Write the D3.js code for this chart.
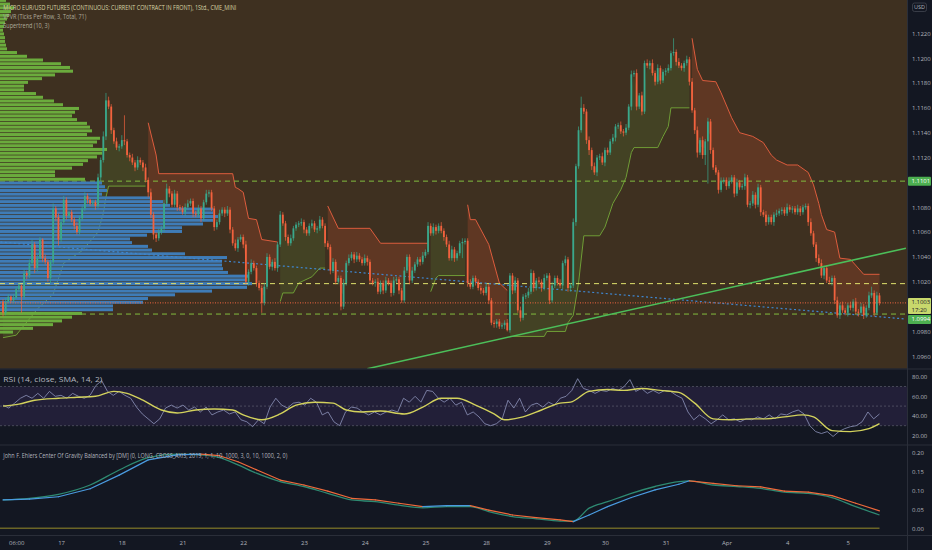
<!DOCTYPE html>
<html>
<head>
<meta charset="utf-8">
<script src="https://cdn.jsdelivr.net/npm/d3@7"></script>
<style>
  html, body { margin: 0; padding: 0; background: #131722; }
  svg { display: block; font-family: "Open Sans", "Noto Sans", sans-serif; }
</style>
</head>
<body>
<script>
// ---- 1h bars, open = previous close ----
var closes = [
  1.0995,1.1004,1.1008,1.1005,1.1007,1.1014,1.1017,1.1008,1.1027,1.1025,
  1.1035,1.1050,1.1031,1.1039,1.1054,1.1039,1.1036,1.1023,1.1036,1.1079,
  1.1072,1.1054,1.1068,1.1086,1.1073,1.1076,1.1070,1.1065,1.1060,1.1071,
  1.1079,1.1089,1.1086,1.1083,1.1084,1.1081,1.1104,1.1118,1.1137,1.1166,
  1.1161,1.1142,1.1133,1.1128,1.1129,1.1134,1.1133,1.1122,1.1120,1.1116,
  1.1112,1.1118,1.1116,1.1112,1.1102,1.1092,1.1074,1.1058,1.1055,1.1060,
  1.1063,1.1083,1.1095,1.1091,1.1082,1.1091,1.1080,1.1079,1.1076,1.1080,
  1.1083,1.1085,1.1075,1.1074,1.1079,1.1071,1.1084,1.1091,1.1092,1.1079,
  1.1064,1.1068,1.1075,1.1078,1.1075,1.1078,1.1062,1.1051,1.1047,1.1054,
  1.1056,1.1050,1.1020,1.1028,1.1035,1.1031,1.1019,1.1015,1.1003,1.1016,
  1.1040,1.1032,1.1036,1.1031,1.1050,1.1074,1.1067,1.1056,1.1051,1.1055,
  1.1063,1.1066,1.1067,1.1068,1.1062,1.1059,1.1065,1.1067,1.1062,1.1063,
  1.1070,1.1065,1.1051,1.1048,1.1029,1.1036,1.1020,1.1023,1.1000,1.1019,
  1.1035,1.1039,1.1042,1.1038,1.1041,1.1038,1.1035,1.1039,1.1036,1.1021,
  1.1019,1.1020,1.1012,1.1019,1.1013,1.1021,1.1019,1.1011,1.1021,1.1022,
  1.1013,1.1005,1.1029,1.1040,1.1021,1.1029,1.1034,1.1038,1.1036,1.1041,
  1.1044,1.1065,1.1059,1.1064,1.1061,1.1065,1.1061,1.1056,1.1050,1.1039,
  1.1046,1.1039,1.1043,1.1051,1.1052,1.1053,1.1019,1.1016,1.1023,1.1020,
  1.1015,1.1013,1.1011,1.1016,1.1005,1.0987,1.0986,1.0988,1.0984,1.0985,
  1.0987,1.0981,1.1025,1.1013,1.1021,1.0997,1.0991,1.1008,1.1009,1.1012,
  1.1027,1.1015,1.1021,1.1020,1.1015,1.1023,1.1025,1.1005,1.1017,1.1023,
  1.1019,1.1017,1.1035,1.1038,1.1015,1.1017,1.1068,1.1113,1.1142,1.1160,
  1.1157,1.1134,1.1126,1.1113,1.1108,1.1120,1.1121,1.1116,1.1126,1.1124,
  1.1133,1.1136,1.1145,1.1146,1.1141,1.1140,1.1144,1.1161,1.1187,1.1188,
  1.1161,1.1170,1.1157,1.1196,1.1194,1.1196,1.1188,1.1181,1.1192,1.1182,
  1.1189,1.1190,1.1192,1.1204,1.1205,1.1197,1.1194,1.1192,1.1196,1.1199,
  1.1181,1.1158,1.1142,1.1124,1.1134,1.1122,1.1133,1.1149,1.1126,1.1112,
  1.1108,1.1094,1.1101,1.1102,1.1097,1.1101,1.1104,1.1091,1.1100,1.1096,
  1.1097,1.1104,1.1082,1.1083,1.1090,1.1082,1.1096,1.1076,1.1074,1.1068,
  1.1072,1.1068,1.1074,1.1075,1.1077,1.1078,1.1075,1.1080,1.1078,1.1079,
  1.1076,1.1079,1.1076,1.1080,1.1081,1.1068,1.1059,1.1050,1.1039,1.1035,
  1.1025,1.1031,1.1021,1.1020,1.1023,1.1005,1.0993,1.1001,1.0997,1.0995,
  1.1001,1.0999,1.1004,1.0996,1.0995,1.1000,1.0993,1.0999,1.1009,1.1011,
  1.0995,1.1009,1.1003
];
// wick lengths in pips beyond the body
var wickHi = [
  2,3,2,1,3,2,2,1,3,2, 3,4,2,3,2,1,3,2,2,4, 2,3,2,3,2,1,2,2,3,2, 2,3,2,1,2,2,3,2,4,6,
  3,2,2,3,2,4,20,2,2,3, 2,3,2,2,3,2,3,2,2,3, 2,3,4,2,2,3,2,2,2,3, 3,2,2,2,3,2,2,3,2,2,
  2,2,3,2,2,3,2,2,3,2, 2,2,3,2,3,2,2,2,2,3, 3,2,2,3,2,3,2,2,2,3, 2,2,2,3,2,2,2,3,2,2,
  3,2,2,2,2,3,2,2,2,3, 2,3,2,2,3,2,2,3,2,2, 2,2,3,2,2,3,2,2,3,2, 2,2,3,2,2,3,2,2,2,3,
  2,3,2,3,2,2,3,2,2,3, 3,2,2,2,3,2,2,3,2,2, 2,2,2,3,2,2,2,2,2,2, 2,3,2,2,3,2,3,2,2,3,
  3,2,2,3,2,3,2,2,3,2, 2,3,2,3,2,2,3,2,3,9, 3,2,3,2,3,2,2,3,2,2, 2,3,2,2,3,2,3,2,3,2,
  3,2,3,2,3,2,3,2,3,2, 2,2,3,2,11,2,3,2,2,3, 2,3,2,3,2,3,2,3,2,2, 2,2,3,2,2,3,2,2,3,2,
  2,3,2,2,3,2,3,2,2,3, 2,2,2,3,2,2,2,3,2,2, 2,3,2,2,2,2,3,2,2,3, 3,2,2,3,2,2,3,2,3,2,
  2,3,2,3,2,3,2,2,3,5, 2,3,2
];
var wickLo = [
  3,2,1,2,2,1,2,13,2,3, 2,2,4,3,1,3,2,3,4,2, 3,5,2,2,3,2,2,3,2,2, 2,2,3,2,2,3,2,3,2,3,
  2,3,2,2,3,2,3,2,3,2, 3,2,2,3,2,4,3,4,3,2, 2,3,2,3,2,2,3,2,2,3, 2,2,3,2,2,3,2,2,3,2,
  3,2,2,2,3,2,3,2,2,3, 2,3,2,3,2,2,3,2,8,2, 2,2,3,2,3,2,2,3,2,2, 2,2,2,2,3,2,2,2,2,3,
  2,2,3,2,3,2,2,2,3,2, 2,2,2,3,2,2,2,2,3,3, 2,3,2,2,3,2,2,3,2,2, 3,2,2,2,3,2,2,2,3,2,
  2,2,2,2,3,2,2,3,2,2, 2,3,2,2,12,2,3,2,2,3, 2,3,2,2,3,2,3,3,2,2, 3,1,2,3,2,2,3,2,2,2,
  2,3,2,2,3,2,2,3,2,2, 2,2,3,2,3,3,2,3,2,2, 2,3,4,3,2,3,2,2,3,2, 2,2,3,2,2,3,2,2,3,2,
  3,2,3,2,2,3,2,3,2,3, 2,3,2,2,2,3,2,2,3,2, 3,2,3,4,2,3,8,34,3,2, 2,3,2,2,3,2,2,3,2,2,
  2,3,2,3,2,3,2,3,2,3, 2,2,3,2,2,3,2,2,2,3, 2,2,3,2,2,3,2,2,3,2, 2,3,2,2,3,3,2,3,2,2,
  3,2,3,2,3,2,3,2,2,2, 3,2,2
];
var firstOpen = 1.1004;
var lastPrice = 1.1003;
var lastCountdown = "17:20";

var tickBars = [5, 22, 45, 68, 91, 114, 137, 160, 183, 206, 228, 251, 274, 297, 320];
var tickLabels = ["06:00", "17", "18", "21", "22", "23", "24", "25", "28", "29", "30", "31", "Apr", "4", "5"];
var priceTicks = [1.0960, 1.0980, 1.1000, 1.1020, 1.1040, 1.1060, 1.1080, 1.1100, 1.1120, 1.1140, 1.1160, 1.1180, 1.1200, 1.1220];

// ---- VPVR, rows of 3 ticks from the bottom up ----
var vpvrBottom = 1.0978;
var vpvrRowSize = 0.0003;
var vpvrVolume = [
  13,33,53,62,72,82,113,113,143,148, 175,212,247,252,245,248,228,223,222,222,
  227,185,152,148,132,130,147,182,182,203, 213,218,213,213,170,163,152,102,107,105,
  102,85,55,55,72,83,88,97,102,107, 93,97,100,87,92,90,87,77,72,75,
  79,63,54,43,36,24,24,28,42,55, 73,70,61,43,27,17,7,6,5,5,
  4,3,4,5,7,9,11,14,10,6
];
var valueAreaHigh = 1.1101;
var valueAreaLow = 1.0994;
var pocPrice = 1.10185;

// ---- Supertrend (10, 3): vertices, trend +1 up / -1 down ----
var stBar = [0,5,8,10,13,19,23,30,36,38,39,40,54,
  55,58,59,87,88,89,91,93,96,98,104,
  105,106,110,112,117,120,122,
  123,127,139,143,161,
  162,164,165,175,
  176,177,179,184,188,191,
  192,205,206,213,214,216,218,220,226,228,231,234,236,238,239,248,250,252,253,260,
  261,263,265,270,272,276,279,284,288,291,293,297,301,305,307,309,310,312,315,317,321,326,332];
var stValue = [1.0975,1.0977,1.0985,1.0990,1.0998,1.1010,1.1035,1.1045,1.1060,1.1075,1.1088,1.1097,1.1097,
  1.1148,1.1122,1.1107,1.1107,1.1096,1.1095,1.1092,1.1071,1.1070,1.1054,1.1052,
  1.1004,1.1011,1.1011,1.1019,1.1024,1.1031,1.1031,
  1.1081,1.1063,1.1063,1.1051,1.1051,
  1.1012,1.1023,1.1025,1.1025,
  1.1082,1.1070,1.1070,1.1050,1.1019,1.1013,
  1.0976,1.0976,1.0980,1.0980,1.0987,1.0993,1.1019,1.1057,1.1057,1.1064,1.1083,1.1094,1.1104,1.1124,1.1128,1.1128,1.1137,1.1145,1.1160,1.1160,
  1.1216,1.1191,1.1182,1.1181,1.1172,1.1152,1.1140,1.1137,1.1132,1.1122,1.1118,1.1114,1.1114,1.1108,1.1098,1.1083,1.1074,1.1062,1.1060,1.1039,1.1038,1.1026,1.1026];
var stTrend = [1,1,1,1,1,1,1,1,1,1,1,1,1,
  -1,-1,-1,-1,-1,-1,-1,-1,-1,-1,-1,
  1,1,1,1,1,1,1,
  -1,-1,-1,-1,-1,
  1,1,1,1,
  -1,-1,-1,-1,-1,-1,
  1,1,1,1,1,1,1,1,1,1,1,1,1,1,1,1,1,1,1,1,
  -1,-1,-1,-1,-1,-1,-1,-1,-1,-1,-1,-1,-1,-1,-1,-1,-1,-1,-1,-1,-1,-1,-1];

// ---- drawn lines ----
var trendBars = [138, 342];
var trendPrices = [1.0950, 1.1047];
var blueBars = [-1, 342];
var bluePrices = [1.1052, 1.0990];

// ---- RSI (14) and its SMA ----
var rsiValues = [
  51,48,53,58,61,58,63,58,65,60, 61,58,63,60,58,61,71,76,65,61,
  65,61,58,49,42,37,32,37,48,51, 48,51,46,49,44,49,41,44,46,42,
  44,36,34,29,36,32,49,58,51,48, 53,54,51,58,54,41,44,34,30,44,
  49,48,44,41,44,41,44,46,44,58, 54,60,54,66,65,58,54,58,51,54,
  41,44,39,32,30,32,37,56,48,58, 44,51,53,49,54,51,58,60,66,78,
  68,66,63,66,65,68,66,70,77,65, 68,63,66,63,66,65,61,58,44,36,
  41,37,32,36,41,36,37,34,37,36, 39,37,41,37,42,41,44,46,42,30,
  24,22,24,19,24,27,29,30,34,44, 37,42
];
var rsiSmaBars = [0,6,12,21,28,35,42,47,53,60,66,73,80,87,91,98,105,111,118,125,130,136,143,152,159,166,172,179,186,190,
  197,204,211,215,222,229,235,242,249,256,262,269,276,283,289,296,303,307,314,321,328,332];
var rsiSmaValues = [50,52,56,58,59,60,65,63,56,46,43,46,47,46,41,36,42,51,54,53,46,44,45,42,49,58,58,51,42,36,
  39,46,53,54,65,67,66,68,66,64,53,37,36,37,37,39,41,39,25,24,27,32];
var rsiTicks = [20, 40, 60, 80];

// ---- Ehlers Center Of Gravity ----
var cogBars = [0,10,21,33,44,55,66,75,82,89,96,105,114,123,132,141,150,159,168,177,184,193,202,211,216,222,229,238,247,256,260,269,278,287,296,305,314,323,332];
var cogLag = [0.0746,0.079,0.0895,0.114,0.1535,0.186,0.195,0.193,0.186,0.167,0.145,0.123,0.110,0.092,0.0746,0.070,0.061,0.054,0.057,0.057,
  0.044,0.031,0.025,0.019,0.019,0.053,0.070,0.092,0.110,0.123,0.125,0.114,0.110,0.105,0.095,0.092,0.081,0.057,0.035];
var cogLine = [0.0746,0.077,0.083,0.104,0.140,0.180,0.193,0.195,0.191,0.175,0.154,0.127,0.114,0.098,0.079,0.0746,0.066,0.057,0.0596,0.0596,
  0.048,0.035,0.028,0.022,0.0175,0.035,0.057,0.081,0.101,0.116,0.125,0.118,0.112,0.109,0.098,0.095,0.086,0.066,0.046];
var cogTicks = [0, 0.05, 0.10, 0.15, 0.20];

// ---- layout ----
var W = 932, H = 550;
var plotRight = 907;
var mainBottom = 368.5;
var rsiTop = 369.5, rsiBottom = 444.5;
var cogTop = 445.5, cogBottom = 535.5;

var upColor = "#3aa88b", downColor = "#f2623e";

var svg = d3.select("body").append("svg").attr("width", W).attr("height", H);
svg.append("rect").attr("width", W).attr("height", H).attr("fill", "#131722");

var defs = svg.append("defs");
defs.append("clipPath").attr("id", "clipMain").append("rect")
  .attr("x", 0).attr("y", 0).attr("width", plotRight).attr("height", mainBottom);
defs.append("clipPath").attr("id", "clipRsi").append("rect")
  .attr("x", 0).attr("y", rsiTop).attr("width", plotRight).attr("height", rsiBottom - rsiTop);
defs.append("clipPath").attr("id", "clipCog").append("rect")
  .attr("x", 0).attr("y", cogTop).attr("width", plotRight).attr("height", cogBottom - cogTop);

var x = d3.scaleLinear().domain([0, closes.length - 1]).range([3, 879.5]);
var y = d3.scaleLinear().domain([1.0960, 1.1220]).range([356.3, 33.3]);
var rsiY = d3.scaleLinear().domain([20, 80]).range([435.5, 376.7]);
var cogY = d3.scaleLinear().domain([0, 0.2]).range([528.3, 452.3]);

var bars = closes.map(function(c, i) {
  var o = i === 0 ? firstOpen : closes[i - 1];
  return {
    i: i, o: o, c: c,
    h: Math.max(o, c) + wickHi[i] / 10000,
    l: Math.min(o, c) - wickLo[i] / 10000
  };
});

// ---- main pane ----
svg.append("rect").attr("x", 0).attr("y", 0).attr("width", plotRight).attr("height", mainBottom)
  .attr("fill", "#3e3020");
var main = svg.append("g").attr("clip-path", "url(#clipMain)");

// supertrend fills and lines
var stPoints = stBar.map(function(b, k) { return {b: b, v: stValue[k], t: stTrend[k]}; });
var segments = [];
stPoints.forEach(function(p, k) {
  if (k === 0 || p.t !== stPoints[k - 1].t) segments.push([]);
  segments[segments.length - 1].push(p);
});
var line = d3.line().x(function(d) { return x(d.b); }).y(function(d) { return y(d.v); });
var poly = d3.line().x(function(d) { return d[0]; }).y(function(d) { return d[1]; });

segments.forEach(function(seg) {
  var first = seg[0].b, last = seg[seg.length - 1].b;
  var pts = seg.map(function(d) { return [x(d.b), y(d.v)]; });
  for (var i = last; i >= first; i--) {
    pts.push([x(i), y((bars[i].o + bars[i].c) / 2)]);
  }
  main.append("path").attr("d", poly(pts) + "Z")
    .attr("fill", seg[0].t > 0 ? "rgba(96,160,60,0.16)" : "rgba(232,84,52,0.2)");
});
segments.forEach(function(seg) {
  main.append("path").attr("d", line(seg))
    .attr("fill", "none")
    .attr("stroke", seg[0].t > 0 ? "#6f9d36" : "#dc5c3d")
    .attr("stroke-width", 1);
});

// value area high / low lines
[valueAreaHigh, valueAreaLow].forEach(function(p) {
  main.append("line").attr("x1", 0).attr("x2", plotRight)
    .attr("y1", y(p)).attr("y2", y(p))
    .attr("stroke", "#82bd3f").attr("stroke-width", 1).attr("stroke-dasharray", "5,4");
});

// VPVR rows
var vx = d3.scaleLinear().domain([0, d3.max(vpvrVolume)]).range([0, 252]);
main.selectAll("rect.vp")
  .data(vpvrVolume)
  .enter()
  .append("rect")
  .attr("class", "vp")
  .attr("x", 0)
  .attr("y", function(d, j) { return y(vpvrBottom + (j + 1) * vpvrRowSize) + 0.35; })
  .attr("height", function(d, j) {
    return y(vpvrBottom + j * vpvrRowSize) - y(vpvrBottom + (j + 1) * vpvrRowSize) - 0.7;
  })
  .attr("width", function(d) { return vx(d); })
  .attr("fill", function(d, j) {
    var lo = vpvrBottom + j * vpvrRowSize;
    var inVA = lo >= valueAreaLow - 1e-9 && lo + vpvrRowSize <= valueAreaHigh + 1e-9;
    return inVA ? "#3f7cb7" : "#6bab3d";
  });

// POC line
main.append("line").attr("x1", 0).attr("x2", plotRight)
  .attr("y1", y(pocPrice)).attr("y2", y(pocPrice))
  .attr("stroke", "#dfe06c").attr("stroke-width", 1).attr("stroke-dasharray", "5,4");

// blue dotted line
main.append("line")
  .attr("x1", x(blueBars[0])).attr("y1", y(bluePrices[0]))
  .attr("x2", x(blueBars[1])).attr("y2", y(bluePrices[1]))
  .attr("stroke", "#3f86cf").attr("stroke-width", 1.2).attr("stroke-dasharray", "2,2.5");

// candles
main.selectAll("line.wick")
  .data(bars)
  .enter()
  .append("line")
  .attr("class", "wick")
  .attr("x1", function(d) { return x(d.i); })
  .attr("x2", function(d) { return x(d.i); })
  .attr("y1", function(d) { return y(d.h); })
  .attr("y2", function(d) { return y(d.l); })
  .attr("stroke", function(d) { return d.c >= d.o ? upColor : downColor; })
  .attr("stroke-width", 0.7);

main.selectAll("rect.body")
  .data(bars)
  .enter()
  .append("rect")
  .attr("class", "body")
  .attr("x", function(d) { return x(d.i) - 0.9; })
  .attr("width", 1.8)
  .attr("y", function(d) { return y(Math.max(d.o, d.c)); })
  .attr("height", function(d) { return Math.max(0.8, Math.abs(y(d.o) - y(d.c))); })
  .attr("fill", function(d) { return d.c >= d.o ? upColor : downColor; });

// last price line
main.append("line").attr("x1", 0).attr("x2", plotRight)
  .attr("y1", y(lastPrice)).attr("y2", y(lastPrice))
  .attr("stroke", "#f0643f").attr("stroke-width", 1).attr("stroke-dasharray", "1,1.5");

// green trend line
main.append("line")
  .attr("x1", x(trendBars[0])).attr("y1", y(trendPrices[0]))
  .attr("x2", x(trendBars[1])).attr("y2", y(trendPrices[1]))
  .attr("stroke", "#4cbf5a").attr("stroke-width", 1.6);

// titles
function label(g, txt, xx, yy, size, color, len) {
  var t = g.append("text").attr("x", xx).attr("y", yy)
    .attr("font-size", size).attr("fill", color).text(txt);
  if (len) t.attr("textLength", len).attr("lengthAdjust", "spacingAndGlyphs");
  return t;
}
label(svg, "MICRO EUR/USD FUTURES (CONTINUOUS: CURRENT CONTRACT IN FRONT), 1Std., CME_MINI", 3.3, 9.6, 6.5, "#d8d4a6", 233);
label(svg, "VPVR (Ticks Per Row, 3, Total, 71)", 3.3, 19, 6.5, "#b0ac9c", 83);
label(svg, "Supertrend (10, 3)", 3.3, 28, 6.5, "#b0ac9c", 46);

// ---- RSI pane ----
var rsiG = svg.append("g").attr("clip-path", "url(#clipRsi)");
rsiG.append("rect").attr("x", 0).attr("width", plotRight)
  .attr("y", rsiY(70)).attr("height", rsiY(30) - rsiY(70))
  .attr("fill", "rgba(126,87,194,0.14)");
[70, 50, 30].forEach(function(v) {
  rsiG.append("line").attr("x1", 0).attr("x2", plotRight)
    .attr("y1", rsiY(v)).attr("y2", rsiY(v))
    .attr("stroke", "#787b86").attr("stroke-opacity", 0.6)
    .attr("stroke-width", 0.8).attr("stroke-dasharray", "2,2");
});
var rsiStep = (closes.length - 1) / (rsiValues.length - 1);
rsiG.append("path")
  .datum(rsiValues)
  .attr("d", d3.line().x(function(d, k) { return x(k * rsiStep); }).y(function(d) { return rsiY(d); }))
  .attr("fill", "none").attr("stroke", "#8f96bd").attr("stroke-width", 0.8);
rsiG.append("path")
  .datum(rsiSmaValues)
  .attr("d", d3.line().curve(d3.curveMonotoneX)
    .x(function(d, k) { return x(rsiSmaBars[k]); }).y(function(d) { return rsiY(d); }))
  .attr("fill", "none").attr("stroke", "#d3d25c").attr("stroke-width", 1.4);
label(svg, "RSI (14, close, SMA, 14, 2)", 3.3, 382, 6.3, "#b2b5be", 99);

// ---- COG pane ----
var cogG = svg.append("g").attr("clip-path", "url(#clipCog)");
cogG.append("line").attr("x1", 0).attr("x2", x(closes.length - 1))
  .attr("y1", cogY(0)).attr("y2", cogY(0))
  .attr("stroke", "#6b6526").attr("stroke-width", 1.5);
var cogLagPts = cogBars.map(function(b, k) { return [x(b), cogY(cogLag[k])]; });
cogG.append("path").attr("d", d3.line().curve(d3.curveMonotoneX)(cogLagPts))
  .attr("fill", "none").attr("stroke", "#2e8a72").attr("stroke-width", 1.3);
var cogPts = cogBars.map(function(b, k) { return {x: x(b), y: cogY(cogLine[k]), v: cogLine[k]}; });
cogG.selectAll("line.cog")
  .data(d3.pairs(cogPts))
  .enter()
  .append("line")
  .attr("class", "cog")
  .attr("x1", function(d) { return d[0].x; })
  .attr("y1", function(d) { return d[0].y; })
  .attr("x2", function(d) { return d[1].x; })
  .attr("y2", function(d) { return d[1].y; })
  .attr("stroke", function(d) { return d[1].v >= d[0].v ? "#4a9be0" : "#ef6a3b"; })
  .attr("stroke-width", 1.2)
  .attr("stroke-linecap", "round");
label(svg, "John F. Ehlers Center Of Gravity Balanced by [DM] (0, LONG, CROSS_AXIS, 2019, 1, 1, 10, 1000, 3, 0, 10, 1000, 2, 0)",
  3.3, 457.5, 6.3, "#b2b5be", 284);

// ---- separators ----
[mainBottom + 0.5, rsiBottom + 0.5, cogBottom].forEach(function(yy) {
  svg.append("line").attr("x1", 0).attr("x2", W).attr("y1", yy).attr("y2", yy)
    .attr("stroke", "#2a2e39").attr("stroke-width", 1);
});
svg.append("line").attr("x1", plotRight + 0.5).attr("x2", plotRight + 0.5)
  .attr("y1", 0).attr("y2", H).attr("stroke", "#2a2e39").attr("stroke-width", 1);

// ---- axes ----
var tagYs = [y(valueAreaHigh), y(lastPrice), y(valueAreaLow)];
var shownTicks = priceTicks.filter(function(t) {
  return tagYs.every(function(ty) { return Math.abs(y(t) - ty) > 7; });
});
function styleAxis(g) {
  g.select(".domain").remove();
  g.selectAll("text").attr("fill", "#b2b5be").attr("font-size", 6)
    .attr("font-family", "'Open Sans', 'Noto Sans', sans-serif");
}
svg.append("g").attr("transform", "translate(" + plotRight + ",0)")
  .call(d3.axisRight(y).tickValues(shownTicks).tickFormat(d3.format(".4f")).tickSize(0).tickPadding(5))
  .call(styleAxis);
svg.append("g").attr("transform", "translate(" + plotRight + ",0)")
  .call(d3.axisRight(rsiY).tickValues(rsiTicks).tickFormat(d3.format(".2f")).tickSize(0).tickPadding(5))
  .call(styleAxis);
svg.append("g").attr("transform", "translate(" + plotRight + ",0)")
  .call(d3.axisRight(cogY).tickValues(cogTicks).tickFormat(d3.format(".2f")).tickSize(0).tickPadding(5))
  .call(styleAxis);
svg.append("g").attr("transform", "translate(0," + cogBottom + ")")
  .call(d3.axisBottom(x).tickValues(tickBars).tickFormat(function(d, i) { return tickLabels[i]; })
    .tickSize(0).tickPadding(5))
  .call(styleAxis);

// currency badge
svg.append("rect").attr("x", 912.5).attr("y", 3).attr("width", 14).attr("height", 8.5)
  .attr("rx", 2).attr("fill", "none").attr("stroke", "#434651").attr("stroke-width", 0.8);
svg.append("text").attr("x", 919.5).attr("y", 9.3).attr("text-anchor", "middle")
  .attr("font-size", 5.5).attr("fill", "#b2b5be").text("USD");

// price tags
var fmt = d3.format(".4f");
function tag(top, h, fill, color, lines) {
  svg.append("rect").attr("x", plotRight + 1).attr("y", top).attr("width", W - plotRight - 2).attr("height", h)
    .attr("rx", 1).attr("fill", fill);
  lines.forEach(function(t, k) {
    svg.append("text").attr("x", plotRight + 4.5).attr("y", top + 6.6 + k * 7.4)
      .attr("font-size", 6).attr("fill", color).text(t);
  });
}
var vahTop = y(valueAreaHigh) - 4.5;
tag(vahTop, 9, "#4caf50", "#ffffff", [fmt(valueAreaHigh)]);
var lastTop = y(lastPrice) - 5;
tag(lastTop, 16, "#c8d86c", "#1e222d", [fmt(lastPrice), lastCountdown]);
var valTop = Math.max(y(valueAreaLow) - 4.5, lastTop + 17);
tag(valTop, 9, "#4caf50", "#ffffff", [fmt(valueAreaLow)]);
</script>
</body>
</html>
